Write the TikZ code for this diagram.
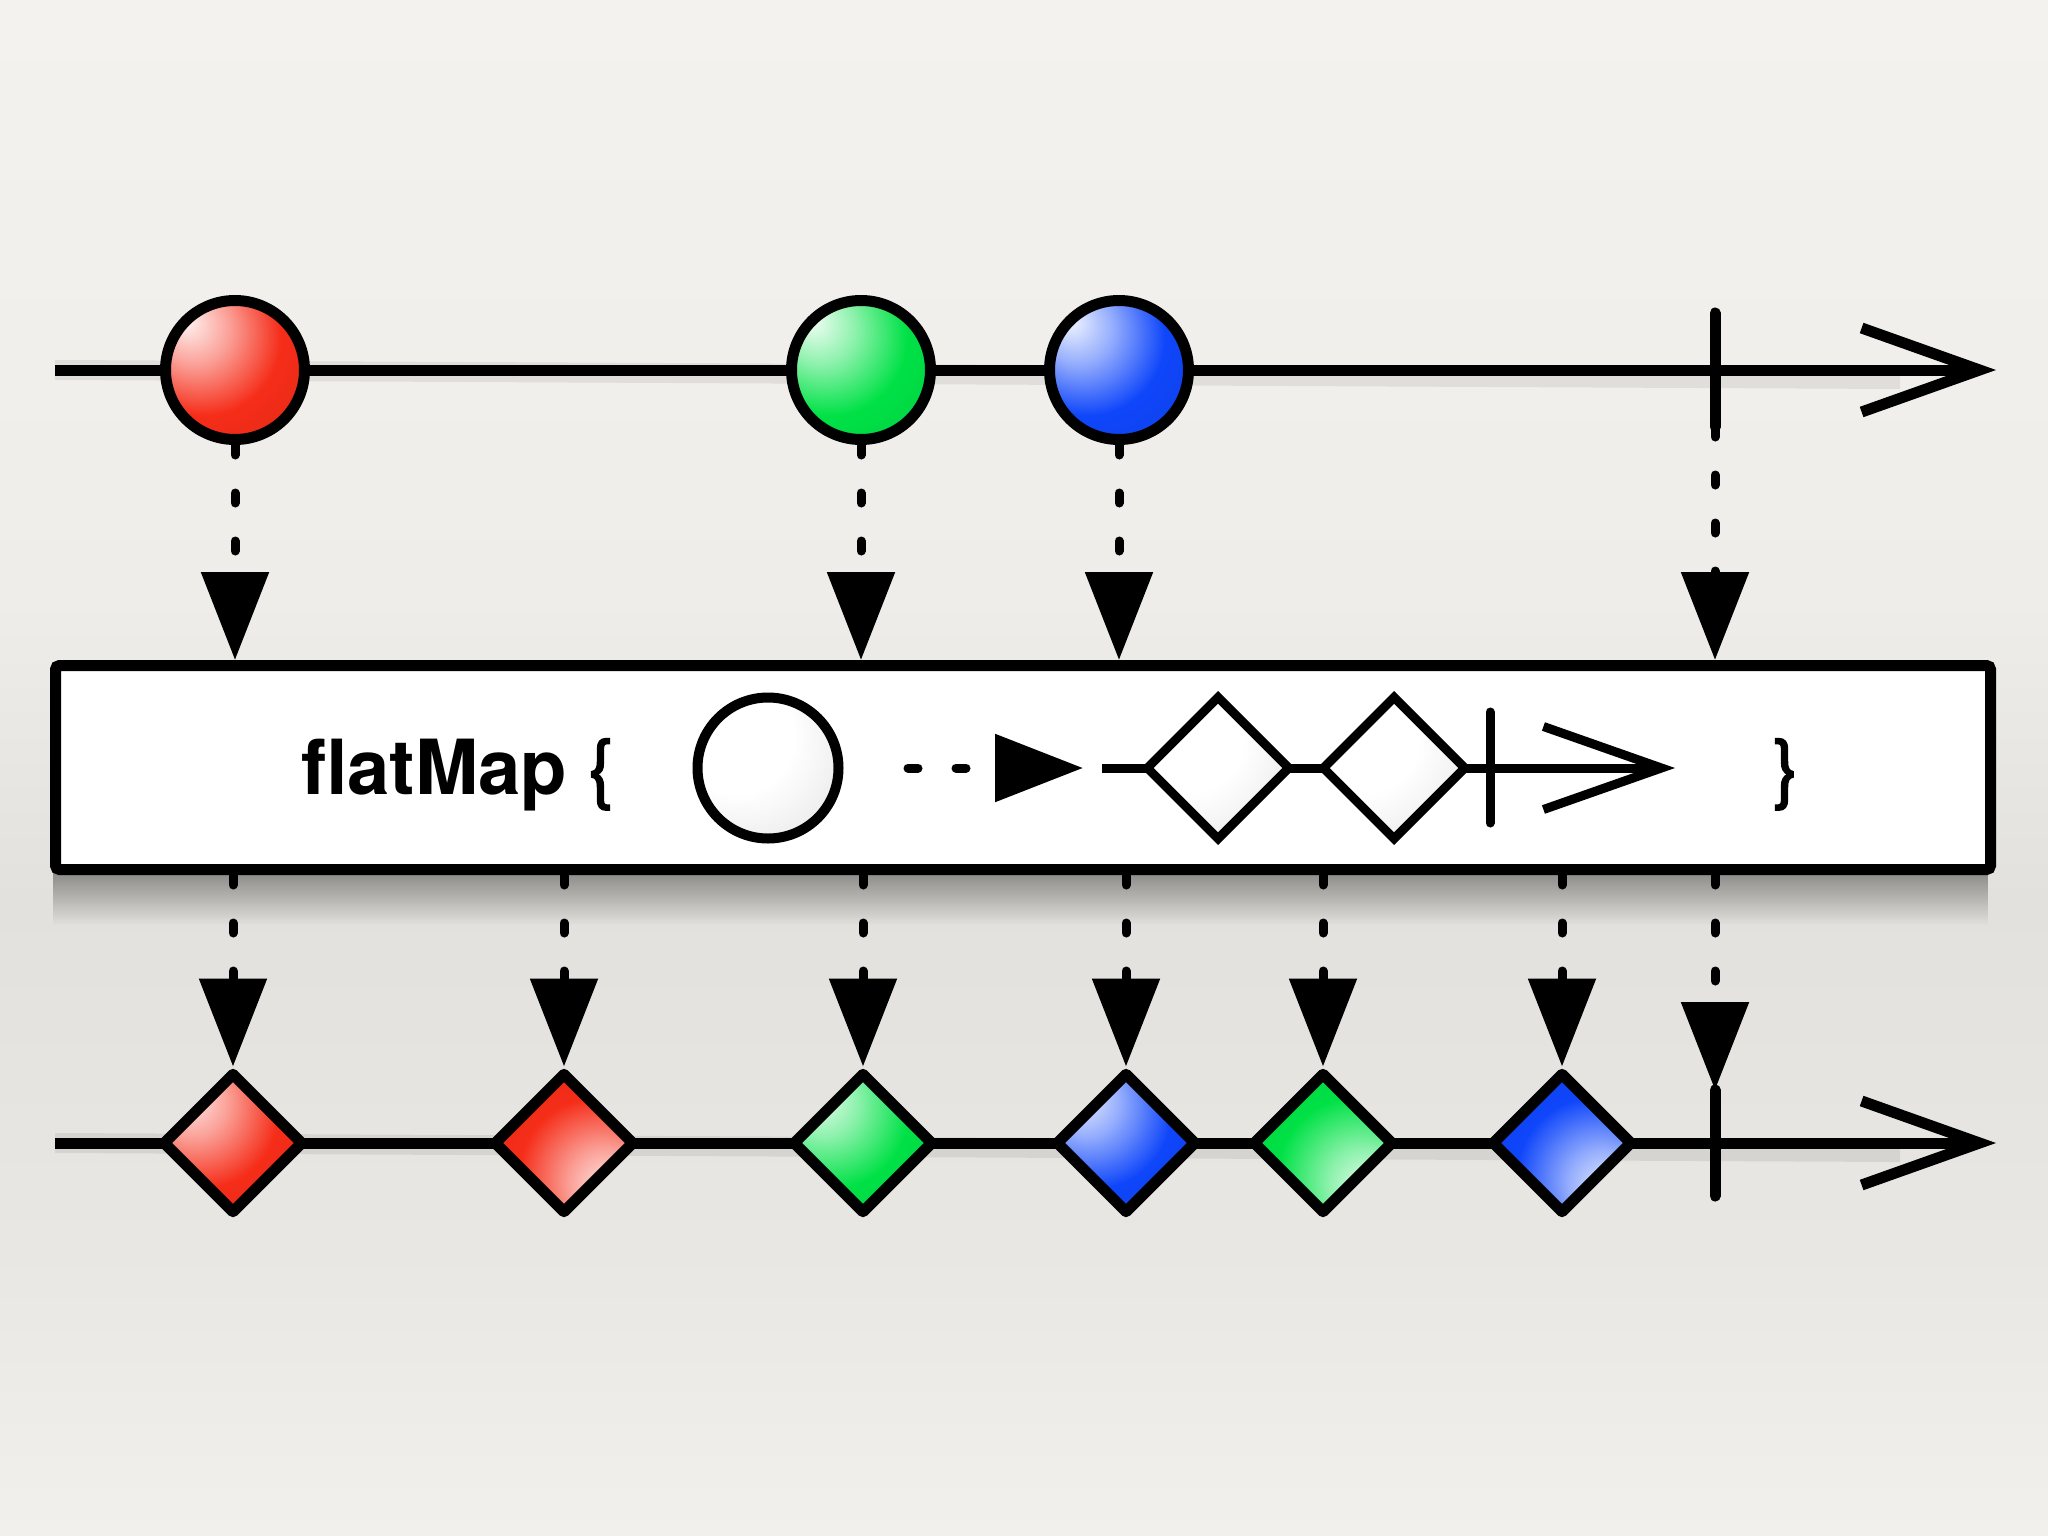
\documentclass[tikz,border=0pt]{standalone}
\usepackage{fontspec}
\setmainfont{TeX Gyre Heros}
\newfontfamily\bracefont[FakeBold=2]{TeX Gyre Heros}
\usetikzlibrary{arrows.meta,shapes.geometric,fadings}

\definecolor{bgA}{HTML}{F3F2EF}
\definecolor{bgB}{HTML}{EEEDE9}
\definecolor{bgC}{HTML}{E2E1DD}
\definecolor{bgD}{HTML}{E8E7E3}
\definecolor{bgE}{HTML}{F1F0ED}
\definecolor{mred}{RGB}{245,45,25}
\definecolor{mgreen}{RGB}{0,225,70}
\definecolor{mblue}{RGB}{15,70,250}
\colorlet{base}{red}

\pgfdeclareradialshading[base]{glossy}{\pgfpoint{-18bp}{18bp}}{%
 color(0bp)=(base!5!white); color(13bp)=(base!45!white); color(28bp)=(base);
 color(52bp)=(base!90!black); color(78bp)=(base!62!black)}
\pgfdeclareradialshading{pearl}{\pgfpoint{-15bp}{15bp}}{%
 color(0bp)=(white); color(20bp)=(white); color(38bp)=(black!8);
 color(55bp)=(black!30); color(75bp)=(black!55)}

\tikzfading[name=shadowfade, top color=transparent!62, bottom color=transparent!100]

\tikzset{
  glossy/.code={\colorlet{base}{#1}\tikzset{shade,shading=glossy}},
  marble/.style={circle, draw, line width=11pt, minimum size=139pt, inner sep=0pt},
  pearlball/.style={circle, draw, line width=10pt, minimum size=141pt, inner sep=0pt, shade, shading=pearl},
  gem/.style={diamond, aspect=1, draw, line width=11pt, line join=round, minimum size=142pt, inner sep=0pt},
  gemw/.style={diamond, aspect=1, draw, line width=9pt, minimum size=145pt, inner sep=0pt, shade, shading=pearl},
  flip/.style={shading angle=180},
  timeline/.style={line width=11pt, -{Straight Barb[length=118pt, width=84pt, line cap=butt, line join=miter]}},
  innerline/.style={line width=9pt, -{Straight Barb[length=118pt, width=83pt, line cap=butt, line join=miter]}},
  tickline/.style={line width=11pt, line cap=round},
  dotarrow/.style={line width=9pt, line cap=round, dash pattern=on 10pt off 38pt,
     -{Triangle[length=88pt, width=66pt]}},
  opbox/.style={rectangle, draw, fill=white, line width=11pt, rounded corners=4pt,
     minimum width=1935pt, minimum height=204pt, inner sep=0pt},
  lbl/.style={inner sep=0pt, font=\fontsize{76pt}{82pt}\selectfont},
  shadowline/.style={line width=20pt, draw opacity=0.07, yshift=-9pt},
}

\begin{document}
\begin{tikzpicture}[x=1pt, y=-1pt]
  % background
  \useasboundingbox (0,0) rectangle (2048,1536);
  \shade[top color=bgA, bottom color=bgB] (0,0) rectangle (2048,600);
  \shade[top color=bgB, bottom color=bgC] (0,600) rectangle (2048,900);
  \shade[top color=bgC, bottom color=bgD] (0,900) rectangle (2048,1250);
  \shade[top color=bgD, bottom color=bgE] (0,1250) rectangle (2048,1536);

  % coordinates
  \coordinate (l1s) at (55,370);
  \coordinate (l1e) at (1996,370);
  \coordinate (t1a) at (1715,313);
  \coordinate (t1b) at (1715,427);
  \coordinate (l2s) at (55,1143);
  \coordinate (l2e) at (1996,1143);
  \coordinate (t2a) at (1715,1090);
  \coordinate (t2b) at (1715,1196);

  % shadows
  \draw[shadowline] (l1s) -- (1900,370);
  \draw[shadowline] (l2s) -- (1900,1143);
  \fill[black, path fading=shadowfade] (56,873) rectangle (1996,925);

  % top timeline
  \draw[timeline] (l1s) -- (l1e);
  \draw[tickline] (t1a) -- (t1b);
  \node[marble, glossy=mred]   (r) at (235,370)  {};
  \node[marble, glossy=mgreen] (g) at (861,370)  {};
  \node[marble, glossy=mblue]  (b) at (1119,370) {};

  % operator box
  \node[opbox] (op) at (1023,767.5) {};
  \node[lbl, anchor=base west] (fm) at (301,794) {\bfseries flatMap {\mdseries\bracefont\{}};
  \node[lbl, anchor=base] (cb) at (1786,794) {\bracefont\}};
  \node[pearlball] (hc) at (768,768) {};
  \coordinate (da) at (908,768);
  \coordinate (db) at (1083,768);
  \draw[dotarrow] (da) -- (db);
  \coordinate (is) at (1102,768);
  \coordinate (ie) at (1675,768);
  \draw[innerline] (is) -- (ie);
  \node[gemw] (w1) at (1218,768) {};
  \node[gemw] (w2) at (1394,768) {};
  \coordinate (it1) at (1490,712);
  \coordinate (it2) at (1490,823);
  \draw[line width=9pt, line cap=round] (it1) -- (it2);

  % arrows into box
  \draw[dotarrow] (r.south) -- (r.south |- op.north);
  \draw[dotarrow] (g.south) -- (g.south |- op.north);
  \draw[dotarrow] (b.south) -- (b.south |- op.north);
  \draw[dotarrow] (t1b) -- (t1b |- op.north);

  % bottom timeline
  \draw[timeline] (l2s) -- (l2e);
  \draw[tickline] (t2a) -- (t2b);
  \node[gem, glossy=mred]         (d1) at (233,1143)  {};
  \node[gem, glossy=mred, flip]   (d2) at (564,1143)  {};
  \node[gem, glossy=mgreen]       (d3) at (863,1143)  {};
  \node[gem, glossy=mblue]        (d4) at (1126,1143) {};
  \node[gem, glossy=mgreen, flip] (d5) at (1323,1143) {};
  \node[gem, glossy=mblue, flip]  (d6) at (1562,1143) {};

  % arrows out of box
  \foreach \d in {d1,d2,d3,d4,d5,d6}
    \draw[dotarrow] (\d.north |- op.south) -- (\d.north);
  \draw[dotarrow] (t2a |- op.south) -- (t2a);
\end{tikzpicture}
\end{document}
